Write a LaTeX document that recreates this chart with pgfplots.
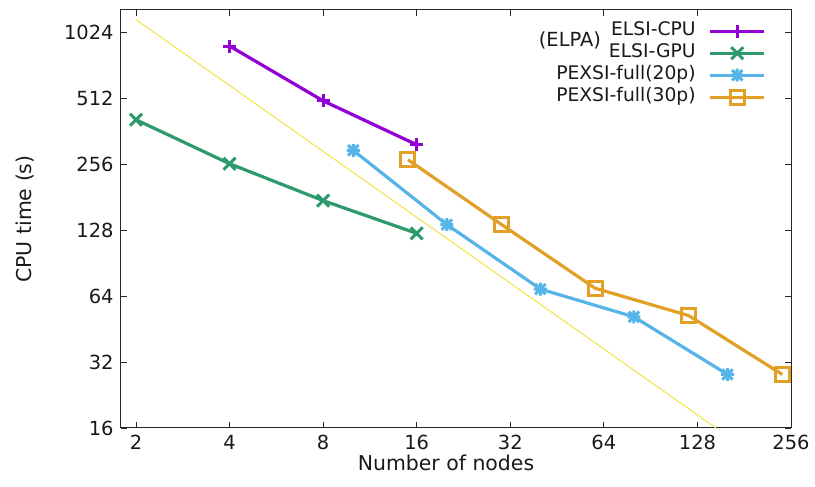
\documentclass[border=0pt]{standalone}
\usepackage{pgfplots}
\pgfplotsset{compat=1.18}
\usepackage{fontspec}
\setmainfont{DejaVu Sans}
\definecolor{gpPurple}{HTML}{9400D3}
\definecolor{gpGreen}{HTML}{2E9A6C}
\definecolor{gpBlue}{HTML}{56B4E9}
\definecolor{gpOrange}{HTML}{E3A026}
\definecolor{gpYellow}{HTML}{F0E442}
\pgfdeclareplotmark{gpstar}{%
  \pgfpathmoveto{\pgfqpoint{-\pgfplotmarksize}{0pt}}%
  \pgfpathlineto{\pgfqpoint{\pgfplotmarksize}{0pt}}%
  \pgfpathmoveto{\pgfqpoint{0pt}{-\pgfplotmarksize}}%
  \pgfpathlineto{\pgfqpoint{0pt}{\pgfplotmarksize}}%
  \pgfpathmoveto{\pgfqpoint{-.8\pgfplotmarksize}{-.8\pgfplotmarksize}}%
  \pgfpathlineto{\pgfqpoint{.8\pgfplotmarksize}{.8\pgfplotmarksize}}%
  \pgfpathmoveto{\pgfqpoint{-.8\pgfplotmarksize}{.8\pgfplotmarksize}}%
  \pgfpathlineto{\pgfqpoint{.8\pgfplotmarksize}{-.8\pgfplotmarksize}}%
  \pgfusepathqstroke}
\begin{document}
\begin{tikzpicture}
\begin{axis}[
  scale only axis,
  width=670bp, height=418bp,
  xmode=log, ymode=log,
  log basis x=2, log basis y=2,
  xmin=1.79, xmax=256, ymin=16, ymax=1300,
  xtick={2,4,8,16,32,64,128,256},
  xticklabels={2,4,8,16,32,64,128,256},
  ytick={16,32,64,128,256,512,1024},
  yticklabels={16,32,64,128,256,512,1024},
  minor tick num=0,
  tick align=inside,
  major tick length=6bp,
  axis line style={line width=1bp, black!85},
  every tick/.style={black!85, line width=0.8bp},
  tick label style={font=\fontsize{19.5}{23}\selectfont, black!90},
  xticklabel style={yshift=-4bp},
  yticklabel style={xshift=-4bp},
  xlabel={Number of nodes},
  ylabel={CPU time (s)},
  label style={font=\fontsize{20.5}{24}\selectfont, black!90},
  xlabel style={xshift=-10bp, yshift=2bp},
  ylabel style={yshift=23bp},
  legend plot pos=right,
  legend cell align=right,
  legend style={draw=none, fill=none, at={(rel axis cs:1,1)}, anchor=north east,
    xshift=-22bp, yshift=-8bp,
    font=\fontsize{18.8}{22}\selectfont, text=black!90,
    nodes={inner sep=0pt, text height=15bp, text depth=7bp},
    column sep=13bp, row sep=0bp},
  legend image code/.code={%
    \draw[mark repeat=2,mark phase=2,#1]
    plot coordinates {(0bp,0bp) (27bp,0bp) (54bp,0bp)};},
  every axis plot/.append style={line width=3.2bp},
]
\addplot[color=gpYellow, line width=1bp, forget plot] coordinates {(2,1175) (146.9,16)};

\addplot[color=gpPurple, mark=+, mark size=6.5bp, mark options={solid, line width=3bp}]
  coordinates {(4,890) (8,500) (16,315)};
\addlegendentry{ELSI-CPU}
\addplot[color=gpGreen, mark=x, mark size=8.5bp, mark options={solid, line width=3bp}]
  coordinates {(2,410) (4,258) (8,175) (16,124)};
\addlegendentry{ELSI-GPU}
\addplot[color=gpBlue, mark=gpstar, mark size=6.5bp, mark options={solid, line width=3bp}]
  coordinates {(10,297) (20,136) (40,69) (80,51.5) (160,28.1)};
\addlegendentry{PEXSI-full(20p)}
\addplot[color=gpOrange, mark=square, mark size=7bp, mark options={solid, line width=3bp}]
  coordinates {(15,269) (30,136) (60,69.6) (120,52.2) (240,28.1)};
\addlegendentry{PEXSI-full(30p)}

\node[font=\fontsize{19.5}{23}\selectfont, text=black!90, anchor=center] at (rel axis cs:0.670,0.928) {(ELPA)};
\end{axis}
\pgfresetboundingbox
\useasboundingbox (-121bp,-59bp) rectangle (694bp,428bp);
\end{tikzpicture}
\end{document}
